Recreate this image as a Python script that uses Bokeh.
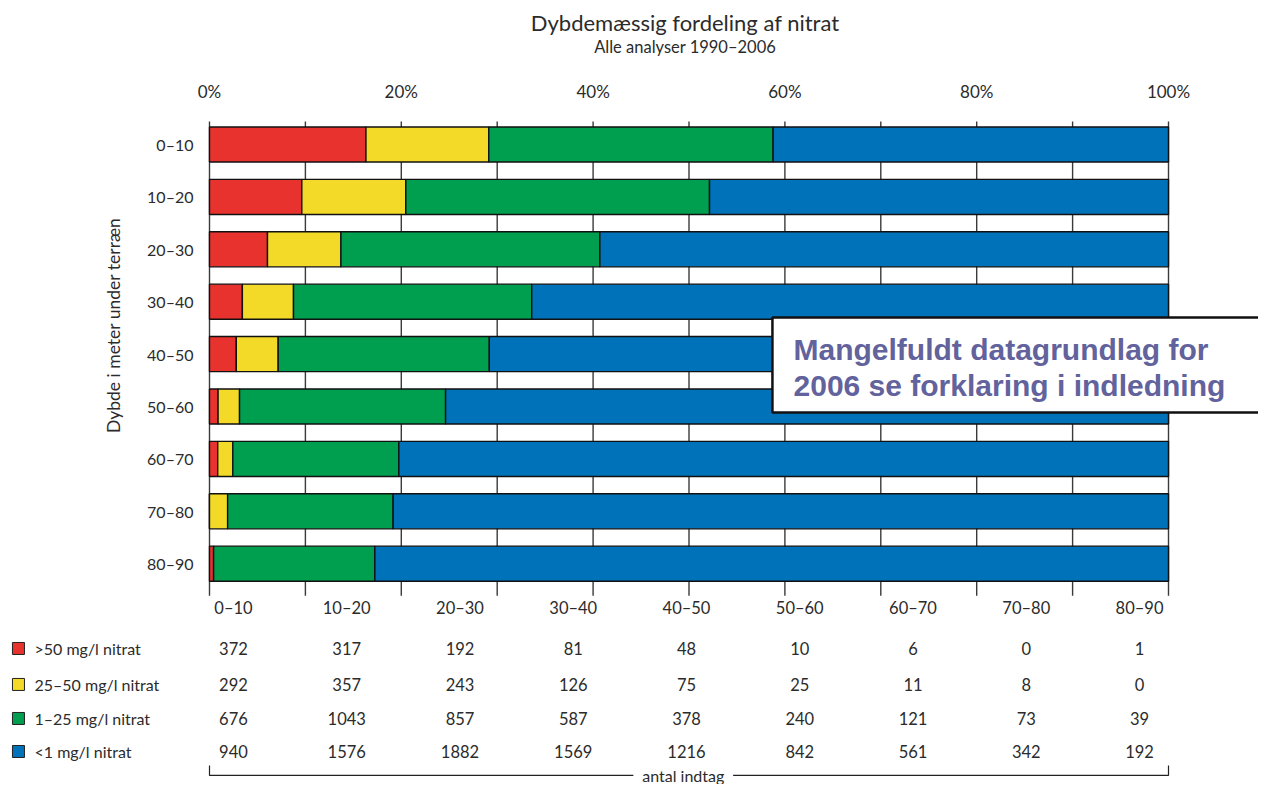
from bokeh.plotting import figure
from bokeh.layouts import column
from bokeh.models import Range1d, FixedTicker
from bokeh.core.properties import value
from bokeh.embed import file_html
from bokeh.resources import INLINE
import math

depths = ["0–10", "10–20", "20–30", "30–40", "40–50", "50–60", "60–70", "70–80", "80–90"]
over50 = [372, 317, 192, 81, 48, 10, 6, 0, 1]
from25to50 = [292, 357, 243, 126, 75, 25, 11, 8, 0]
from1to25 = [676, 1043, 857, 587, 378, 240, 121, 73, 39]
under1 = [940, 1576, 1882, 1569, 1216, 842, 561, 342, 192]
series_names = [">50 mg/l nitrat", "25–50 mg/l nitrat", "1–25 mg/l nitrat", "<1 mg/l nitrat"]
colors = ["#E8322E", "#F3DA28", "#009E4F", "#0072BA"]
pct_ticks = [0, 20, 40, 60, 80, 100]
title_text = "Dybdemæssig fordeling af nitrat"
subtitle_text = "Alle analyser 1990–2006"

FONT = "Lato"
TXT = "#2b2b2b"

series = [over50, from25to50, from1to25, under1]
totals = [sum(s[i] for s in series) for i in range(len(depths))]
rows = list(range(len(depths)))

X0, X1 = -21.793, 109.385

# ---- header figure with title and subtitle
head = figure(width=1258, height=70, output_backend="svg", toolbar_location=None,
              x_range=Range1d(X0, X1), y_range=Range1d(70, 0),
              x_axis_location=None, y_axis_location=None,
              min_border=0)
head.outline_line_color = None
head.xgrid.visible = False
head.ygrid.visible = False
head.text(x=[49.6], y=[22], text=[title_text], text_align="center", text_baseline="middle",
          text_font=value(FONT), text_font_size="22px", text_color=TXT)
head.text(x=[49.6], y=[46], text=[subtitle_text], text_align="center", text_baseline="middle",
          text_font=value(FONT), text_font_size="16.5px", text_color=TXT)

# ---- main figure
p = figure(width=1258, height=714, output_backend="svg", toolbar_location=None,
           x_range=Range1d(X0, X1), y_range=Range1d(12.214, -0.744),
           x_axis_location="above", y_axis_location=None,
           min_border_top=35, min_border_bottom=0, min_border_left=0, min_border_right=0)
p.outline_line_color = None
p.xgrid.visible = False
p.ygrid.visible = False
ax = p.xaxis[0]
ax.ticker = FixedTicker(ticks=pct_ticks)
ax.major_label_overrides = {t: f"{t}%" for t in pct_ticks}
ax.axis_line_color = None
ax.major_tick_line_color = None
ax.minor_tick_line_color = None
ax.major_tick_out = 0
ax.major_label_standoff = 4
ax.major_label_text_font = FONT
ax.major_label_text_font_size = "17px"
ax.major_label_text_color = TXT

# grid lines every 10 %
gx = list(range(0, 101, 10))
p.segment(x0=gx, x1=gx, y0=[-0.44] * len(gx), y1=[8.61] * len(gx),
          line_color="#3a3a3a", line_width=1.4)

# stacked bars in percent
left = [0.0] * len(depths)
for s, c in zip(series, colors):
    w = [100.0 * s[i] / totals[i] for i in rows]
    right = [left[i] + w[i] for i in rows]
    p.hbar(y=rows, left=left, right=right, height=0.67, fill_color=c,
           line_color="#111111", line_width=1.4)
    left = right

# row labels
p.text(x=[-1.67] * len(depths), y=rows, text=depths, text_align="right",
       text_baseline="middle", text_font=value(FONT), text_font_size="16px", text_color=TXT)
p.text(x=[-10.0], y=[3.45], text=["Dybde i meter under terræn"], angle=math.pi / 2,
       text_align="center", text_baseline="middle", text_font=value(FONT),
       text_font_size="17.5px", text_color=TXT)

# table below
col_x = [2.5 + 11.81 * i for i in rows]
p.text(x=col_x, y=[8.855] * len(depths), text=depths, text_align="center",
       text_baseline="middle", text_font=value(FONT), text_font_size="16.5px", text_color=TXT)
row_y = [9.618, 10.305, 10.954, 11.584]
for s, yy in zip(series, row_y):
    p.text(x=col_x, y=[yy] * len(depths), text=[str(v) for v in s], text_align="center",
           text_baseline="middle", text_font=value(FONT), text_font_size="16.5px", text_color=TXT)

# legend
p.scatter(x=[-19.92] * 4, y=row_y, marker="square", size=12, fill_color=colors,
          line_color="#222222", line_width=1)
p.text(x=[-18.25] * 4, y=row_y, text=series_names, text_align="left", text_baseline="middle",
       text_font=value(FONT), text_font_size="16px", text_color=TXT)

# bracket "antal indtag"
p.multi_line(xs=[[0, 0, 44.2], [54.6, 100, 100]], ys=[[11.85, 12.04, 12.04], [12.04, 12.04, 11.85]],
             line_color="#222222", line_width=1.2)
p.text(x=[49.4], y=[12.04], text=["antal indtag"], text_align="center", text_baseline="middle",
       text_font=value(FONT), text_font_size="16px", text_color=TXT)

# note box
p.quad(left=[58.7], right=[115], top=[3.30], bottom=[5.115], fill_color="white",
       line_color="#111111", line_width=2.5)
p.text(x=[60.9, 60.9], y=[3.91, 4.60],
       text=["Mangelfuldt datagrundlag for", "2006 se forklaring i indledning"],
       text_align="left", text_baseline="middle", text_font=value("Liberation Sans"),
       text_font_style="bold", text_font_size="30px", text_color="#62629C")

layout = column(head, p, spacing=0)
open("out.html", "w").write(file_html(layout, INLINE))
